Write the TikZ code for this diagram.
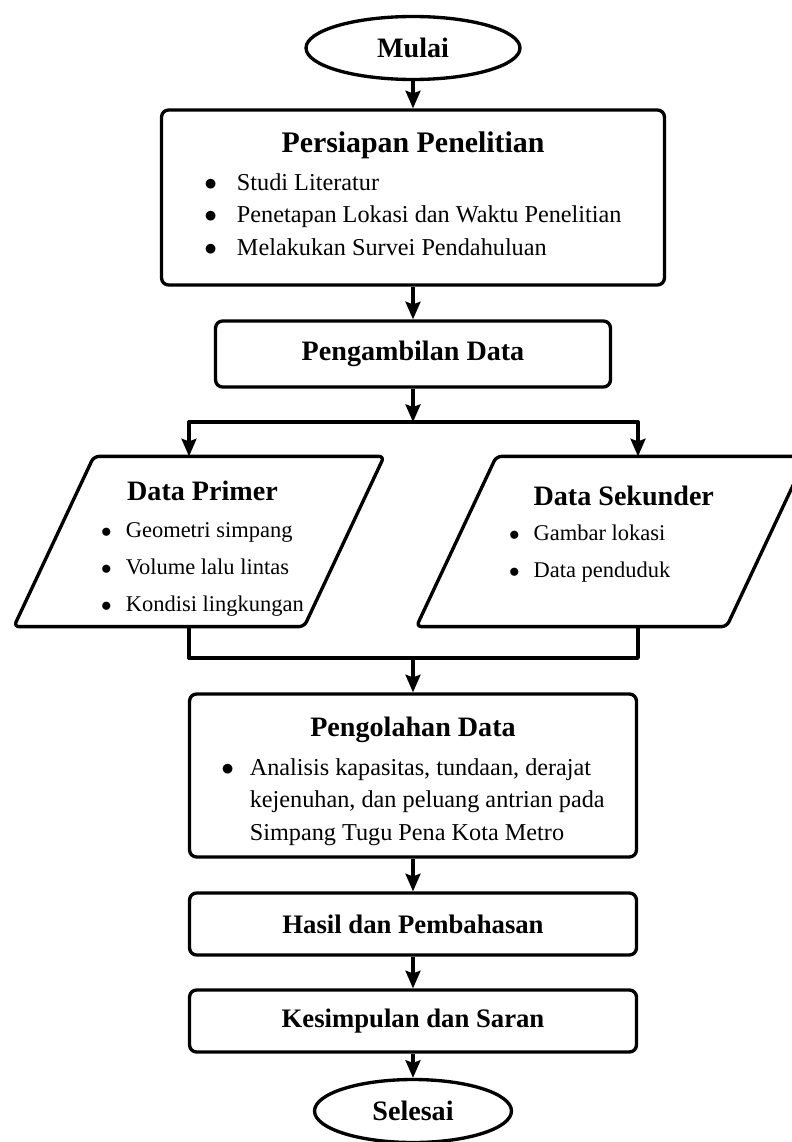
\documentclass[tikz,border=0pt]{standalone}
\usepackage{fontspec}
\setmainfont{Liberation Serif}
\usetikzlibrary{shapes.geometric,arrows.meta}

\newcommand{\judul}[2][16]{{\fontsize{#1}{19}\selectfont\bfseries #2}}
\newcommand{\butir}{$\bullet$}

\begin{document}
\begin{tikzpicture}[x=0.02cm,y=-0.02cm,line width=1.9pt,line join=round,
  >={Stealth[length=10pt,width=8.5pt,inset=1.5pt]}]
  \tikzstyle{terminal}=[ellipse, draw, minimum width=4.28cm, minimum height=1.26cm, inner sep=0pt]
  \tikzstyle{proses}=[rectangle, draw, rounded corners=4pt, minimum width=8.94cm, inner sep=0pt,
    font=\fontsize{13.8}{18.4}\selectfont]
  \tikzstyle{masukan}=[rectangle, minimum height=3.34cm, inner sep=0pt,
    font=\fontsize{12.8}{21}\selectfont]
  \useasboundingbox (0,0) rectangle (791,1142);

  \node[terminal] (mulai) at (413,48) {\judul{Mulai}};
  \node[proses, minimum width=10.06cm, minimum height=3.5cm] (siap) at (413,197.5) {%
    \begin{tabular}{@{}c@{}}\judul[17]{Persiapan Penelitian}\\[3pt]
    \begin{tabular}{@{}l@{\hspace{11.3pt}}l@{}}
    \butir & Studi Literatur\\
    \butir & Penetapan Lokasi dan Waktu Penelitian\\
    \butir & Melakukan Survei Pendahuluan
    \end{tabular}\end{tabular}};
  \node[proses, minimum width=7.9cm, minimum height=1.32cm] (ambil) at (413,354) {\judul{Pengambilan Data}};
  \node[masukan, minimum width=5.74cm] (primer) at (199,541.5) {\makebox[0pt]{\hspace{4pt}%
    \begin{tabular}{@{}c@{}}\rule{0pt}{22.7pt}\judul{Data Primer}\\[0pt]
    \begin{tabular}{@{}l@{\hspace{8pt}}l@{}}
    {\large\butir} & Geometri simpang\\
    {\large\butir} & Volume lalu lintas\\
    {\large\butir} & Kondisi lingkungan
    \end{tabular}\end{tabular}}};
  \node[masukan, minimum width=6.14cm] (sekunder) at (611.5,541.5) {\makebox[0pt]{%
    \begin{tabular}{@{}l@{\hspace{8pt}}l@{}}
    & \rule{0pt}{17.5pt}\judul{Data Sekunder}\\[-1pt]
    {\large\butir} & Gambar lokasi\\
    {\large\butir} & Data penduduk\\[11pt]
    \end{tabular}}};
  \node[proses, minimum height=3.26cm] (olah) at (413,775.5) {%
    \begin{tabular}{@{}c@{}}\rule{0pt}{20pt}\judul{Pengolahan Data}\\[4pt]
    \begin{tabular}{@{}l@{\hspace{9pt}}l@{}}
    \butir & Analisis kapasitas, tundaan, derajat\\
    & kejenuhan, dan peluang antrian pada\\
    & Simpang Tugu Pena Kota Metro
    \end{tabular}\end{tabular}};
  \node[proses, minimum height=1.24cm] (hasil) at (413,924) {\judul[15.2]{Hasil dan Pembahasan}};
  \node[proses, minimum height=1.24cm] (simpul) at (413,1021) {\judul[15.2]{Kesimpulan dan Saran}};
  \node[terminal, minimum width=3.94cm] (selesai) at (413,1111) {\judul{Selesai}};

  \foreach \n in {primer,sekunder}
    \draw[rounded corners=3pt] ([xshift=-0.8cm]\n.south west) -- ([xshift=0.8cm]\n.north west)
      -- ([xshift=0.8cm]\n.north east) -- ([xshift=-0.8cm]\n.south east) -- cycle;

  \coordinate (cabang) at (413,422);
  \coordinate (kiri) at (189,422);
  \coordinate (kanan) at (638,422);
  \coordinate (gabung) at (413,658);

  \draw[->] (mulai) -- (siap);
  \draw[->] (siap) -- (ambil);
  \draw[->] (ambil) -- (cabang);
  \draw[->] (cabang) -| (kiri |- primer.north);
  \draw[->] (cabang) -| (kanan |- sekunder.north);
  \draw (kiri |- primer.south) |- (gabung);
  \draw (kanan |- sekunder.south) |- (gabung);
  \draw[->] (gabung) -- (olah);
  \draw[->] (olah) -- (hasil);
  \draw[->] (hasil) -- (simpul);
  \draw[->] (simpul) -- (selesai);
\end{tikzpicture}
\end{document}
